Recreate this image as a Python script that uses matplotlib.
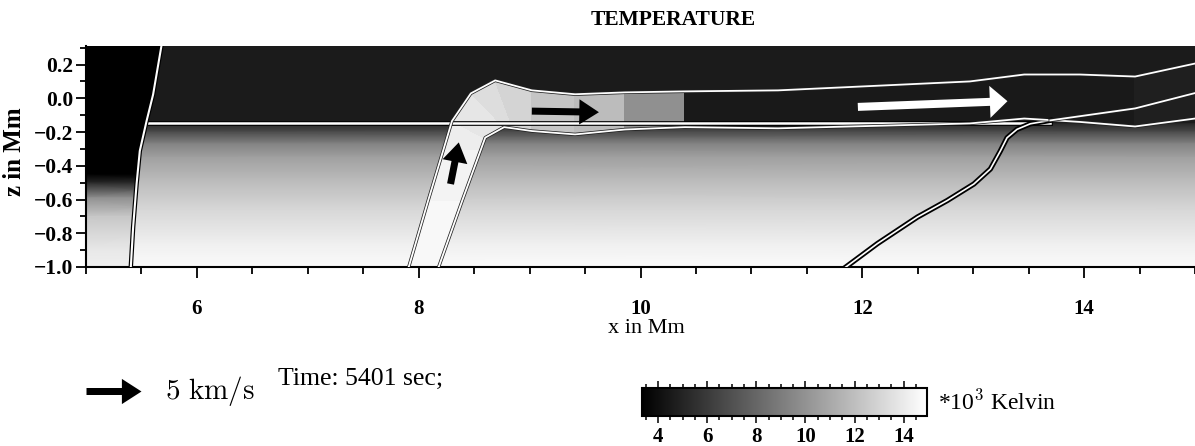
import numpy as np
import matplotlib
matplotlib.use('Agg')
import matplotlib.pyplot as plt
import matplotlib.patheffects as pe
from matplotlib.patches import Polygon
from matplotlib.ticker import MultipleLocator
from matplotlib.colors import Normalize
from matplotlib.cm import ScalarMappable

plt.rcParams['font.family'] = ['Liberation Serif', 'DejaVu Serif']
plt.rcParams['mathtext.fontset'] = 'cm'

W, H = 1195, 446
T_MIN, T_MAX = 3.35, 14.95

# 背景大气的温度剖面 (10^3 K) vs 高度 z (Mm)
bg_z = [0.31, -0.148, -0.152, -0.2, -0.27, -0.35, -0.47, -0.66, -0.86, -1.0]
bg_T = [4.6, 4.6, 5.2, 6.8, 9.3, 10.6, 11.7, 13.1, 14.2, 14.7]
# 左侧磁区内部
left_z = [0.31, -0.45, -0.5, -0.59, -0.7, -0.9, -1.0]
left_T = [3.35, 3.35, 5.2, 9.9, 12.4, 13.9, 14.2]

# 磁力线
left_line_x = [5.404, 5.425, 5.456, 5.485, 5.546, 5.605, 5.680]
left_line_z = [-1.0, -0.763, -0.508, -0.312, -0.135, 0.022, 0.31]
right_line_x = [11.852, 12.137, 12.497, 12.766, 13.006, 13.155, 13.245, 13.305, 13.395, 13.515, 13.695]
right_line_z = [-1.0, -0.861, -0.704, -0.606, -0.508, -0.419, -0.312, -0.234, -0.184, -0.151, -0.131]
mid_line_x = [13.695, 14.46, 15.0]
mid_line_z = [-0.131, -0.06, 0.031]
horiz_x = [5.546, 13.695]
horiz_z = -0.148

# 磁通管截面: 上(左)壁 / 下(右)壁, 以及每个单元的温度
tube_ux = [7.91, 8.088, 8.225, 8.30, 8.47, 8.69, 9.02, 9.41, 9.86, 10.40, 11.24, 12.97, 13.46, 13.96, 14.46, 15.0]
tube_uz = [-1.0, -0.6, -0.3, -0.135, 0.029, 0.106, 0.047, 0.024, 0.035, 0.041, 0.047, 0.10, 0.141, 0.141, 0.129, 0.206]
tube_lx = [8.18, 8.396, 8.563, 8.60, 8.77, 8.85, 9.02, 9.41, 9.86, 10.40, 11.24, 12.97, 13.46, 13.96, 14.46, 15.0]
tube_lz = [-1.0, -0.6, -0.3, -0.233, -0.171, -0.178, -0.194, -0.214, -0.185, -0.171, -0.178, -0.149, -0.12, -0.14, -0.167, -0.12]
tube_T = [14.6, 14.4, 14.1, 13.8, 13.4, 13.0, 12.3, 11.9, 9.9, 4.5, 4.5, 4.5, 4.5, 4.5, 4.8]

# 速度箭头 (km/s)
arr_x = [8.287, 9.02, 11.96]
arr_z = [-0.508, -0.076, -0.051]
arr_u = [0.75, 6.1, 13.6]
arr_w = [3.78, -0.1, 0.52]
ref_speed = 5

cmap = plt.get_cmap('gray')
norm = Normalize(T_MIN, T_MAX)

fig = plt.figure(figsize=(W / 100, H / 100), dpi=100)
ax = fig.add_axes([86 / W, 1 - 267 / H, 1 - 86 / W, 221 / H])

# 背景
Xb, Zb = np.meshgrid([5.0, 15.0], bg_z)
Cb = np.repeat(np.array(bg_T)[:, None], 2, axis=1)
ax.pcolormesh(Xb, Zb, Cb, shading='gouraud', cmap=cmap, norm=norm, zorder=0)

# 左侧磁区, 以左磁力线裁剪
Xl, Zl = np.meshgrid([5.0, 5.8], left_z)
Cl = np.repeat(np.array(left_T)[:, None], 2, axis=1)
ml = ax.pcolormesh(Xl, Zl, Cl, shading='gouraud', cmap=cmap, norm=norm, zorder=0.5)
clip = Polygon(np.column_stack([[5.0, 5.0] + left_line_x, [0.31, -1.0] + left_line_z]),
               closed=True, transform=ax.transData)
ml.set_clip_path(clip)

# 磁通管
TX = np.array([tube_lx, tube_ux])
TZ = np.array([tube_lz, tube_uz])
ax.pcolormesh(TX, TZ, np.array([tube_T]), shading='flat', cmap=cmap, norm=norm,
              edgecolors='face', linewidth=0.3, zorder=1)


def outlined(x, z, core, edge, lw_core, lw_edge, zo=3):
    ax.plot(x, z, color=core, lw=lw_core, solid_joinstyle='round', zorder=zo,
            path_effects=[pe.Stroke(linewidth=lw_edge, foreground=edge), pe.Normal()])


outlined(horiz_x, [horiz_z, horiz_z], 'white', 'black', 1.8, 3.4)
outlined(left_line_x, left_line_z, 'white', 'black', 1.5, 3.2)
outlined(right_line_x, right_line_z, 'white', 'black', 1.2, 3.8)
outlined(tube_ux, tube_uz, 'white', '#202020', 1.3, 2.4)
outlined(tube_lx, tube_lz, 'white', '#202020', 1.3, 2.4)
outlined(mid_line_x, mid_line_z, 'white', '#202020', 1.3, 2.4)

# 速度箭头
q = ax.quiver(arr_x[:2], arr_z[:2], arr_u[:2], arr_w[:2], color='black', units='dots',
              width=7, headwidth=3.6, headlength=2.8, headaxislength=2.8,
              scale_units='dots', scale=5 / 55, zorder=5)
ax.quiver(arr_x[2:], arr_z[2:], arr_u[2:], arr_w[2:], color='white', units='dots',
          width=8, headwidth=4, headlength=2.2, headaxislength=2.2,
          scale_units='dots', scale=5 / 55, zorder=5)
ax.quiverkey(q, 141 / W, 1 - 391 / H, ref_speed, r'$5\ \mathrm{km/s}$', coordinates='figure',
             labelpos='E', labelsep=0.24, color='black', fontproperties={'size': 21})

ax.set_xlim(5, 15)
ax.set_ylim(-1.0, 0.31)
ax.xaxis.set_major_locator(MultipleLocator(2))
ax.xaxis.set_minor_locator(MultipleLocator(0.5))
ax.yaxis.set_major_locator(MultipleLocator(0.2))
ax.yaxis.set_minor_locator(MultipleLocator(0.1))
ax.set_xticks([6, 8, 10, 12, 14])
ax.tick_params(which='both', direction='out', width=1.3, color='black')
ax.tick_params(axis='x', which='major', length=8, pad=15, labelsize=15)
ax.tick_params(axis='x', which='minor', length=5)
ax.tick_params(axis='y', which='major', length=7, pad=2, labelsize=15.5)
ax.tick_params(axis='y', which='minor', length=4)
for lab in ax.get_xticklabels() + ax.get_yticklabels():
    lab.set_fontweight('bold')
for s in ['top', 'right']:
    ax.spines[s].set_visible(False)
for s in ['left', 'bottom']:
    ax.spines[s].set_linewidth(1.5)

ax.set_xlabel('x in Mm', fontsize=16)
ax.xaxis.set_label_coords((646 - 86) / 1109, -0.235)
ax.set_ylabel('z in Mm', fontsize=18, fontweight='bold')
ax.yaxis.set_label_coords(-60 / 1109, 0.52)

fig.text(673 / W, 1 - 20 / H, 'TEMPERATURE', ha='center', va='center', fontsize=15.5, fontweight='bold')
fig.text(278 / W, 1 - 379 / H, 'Time: 5401 sec;', ha='left', va='center', fontsize=18.5)

# 色标
cax = fig.add_axes([642 / W, 1 - 416 / H, 285 / W, 28 / H])
cb = fig.colorbar(ScalarMappable(norm=norm, cmap=cmap), cax=cax, orientation='horizontal')
cb.set_ticks([4, 6, 8, 10, 12, 14])
cax.xaxis.set_minor_locator(MultipleLocator(0.5))
cax.tick_params(which='both', direction='out', top=True, bottom=True, width=1.1)
cax.tick_params(which='major', length=5, pad=3, labelsize=15)
cax.tick_params(which='minor', length=3)
for lab in cax.get_xticklabels():
    lab.set_fontweight('bold')
cb.outline.set_linewidth(1.5)
fig.text(938 / W, 1 - 402 / H, r'*10$^{3}$ Kelvin', ha='left', va='center', fontsize=17)

fig.savefig('out.png', dpi=100, facecolor='white')
